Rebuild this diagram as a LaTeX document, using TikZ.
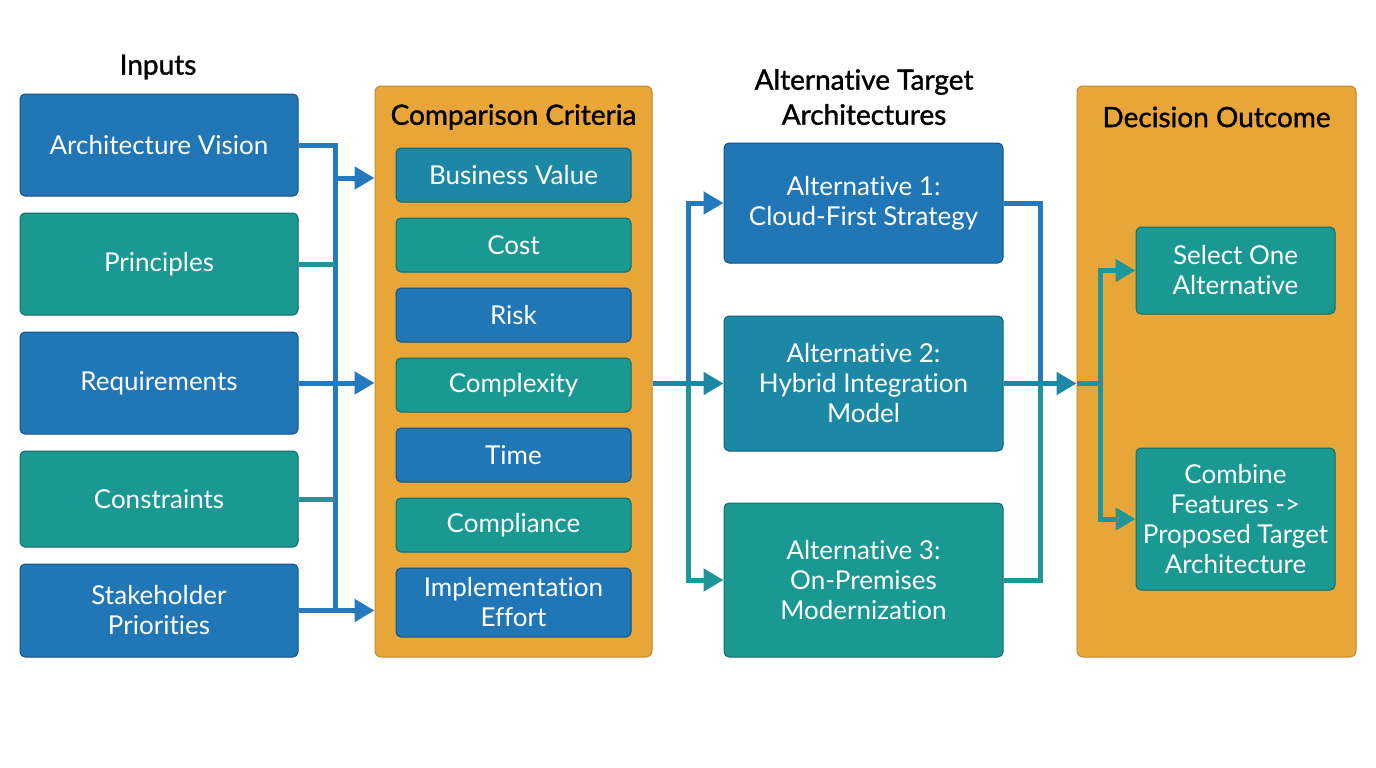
\documentclass[tikz,border=0pt]{standalone}
\usepackage{fontspec}
\setmainfont{Lato}[Ligatures=NoCommon]
\newfontfamily\ttlfont{Lato}[Ligatures=NoCommon,FakeBold=1.2]
\usetikzlibrary{arrows.meta,positioning,calc}
\definecolor{cblue}{RGB}{33,118,182}
\definecolor{cblueb}{RGB}{22,80,130}
\definecolor{cteal}{RGB}{26,152,146}
\definecolor{ctealb}{RGB}{18,105,105}
\definecolor{cmid}{RGB}{28,136,166}
\definecolor{cmidb}{RGB}{20,95,120}
\definecolor{corange}{RGB}{233,166,56}
\definecolor{corangeb}{RGB}{196,138,52}
\definecolor{lblue}{RGB}{36,122,188}
\definecolor{lteal}{RGB}{32,150,152}
\tikzset{
  box/.style={rectangle, rounded corners=5pt, line width=1pt, text=white, align=center,
    font=\fontsize{26}{30}\selectfont, inner sep=0pt},
  bluebox/.style={box, fill=cblue, draw=cblueb},
  tealbox/.style={box, fill=cteal, draw=ctealb},
  midbox/.style={box, fill=cmid, draw=cmidb},
  panel/.style={rectangle, rounded corners=6pt, fill=corange, draw=corangeb, line width=1pt},
  ttl/.style={font=\ttlfont\fontsize{28}{35}\selectfont, text=black, align=center},
  ln/.style={line width=5pt},
  arr/.style={line width=5pt, -{Triangle[length=20pt,width=22pt]}},
}
\begin{document}
\begin{tikzpicture}[x=1pt,y=-1pt]
\useasboundingbox (0,0) rectangle (1376,768);
\fill[white] (0,0) rectangle (1376,768);
% titles
\node[ttl] (tin) at (158,67) {Inputs};
\node[ttl] (talt) at (864,97) {Alternative Target\\Architectures};
% panels
\node[panel, minimum width=277pt, minimum height=571pt] (cc) at (513.5,371.5) {};
\node[panel, minimum width=279pt, minimum height=571pt] (do) at (1216.5,371.5) {};
\node[ttl] (tcc) at (513.5,117) {Comparison Criteria};
\node[ttl] (tdo) at (1216.5,117) {Decision Outcome};
% inputs
\node[bluebox, minimum width=278pt, minimum height=102pt] (av) at (159,145) {Architecture Vision};
\node[tealbox, minimum width=278pt, minimum height=102pt] (pr) at (159,264) {Principles};
\node[bluebox, minimum width=278pt, minimum height=102pt] (rq) at (159,383) {Requirements};
\node[tealbox, minimum width=278pt, minimum height=96pt] (cn) at (159,499) {Constraints};
\node[bluebox, minimum width=278pt, minimum height=93pt] (sp) at (159,610.5) {Stakeholder\\Priorities};
% criteria
\node[midbox, minimum width=235pt, minimum height=54pt] (bv) at (513.5,175) {Business Value};
\node[tealbox, minimum width=235pt, minimum height=54pt] (co) at (513.5,245) {Cost};
\node[bluebox, minimum width=235pt, minimum height=54pt] (ri) at (513.5,315) {Risk};
\node[tealbox, minimum width=235pt, minimum height=54pt] (cx) at (513.5,385) {Complexity};
\node[bluebox, minimum width=235pt, minimum height=54pt] (ti) at (513.5,455) {Time};
\node[tealbox, minimum width=235pt, minimum height=54pt] (cm) at (513.5,525) {Compliance};
\node[bluebox, minimum width=235pt, minimum height=69pt] (ie) at (513.5,602.5) {Implementation\\Effort};
% alternatives
\node[bluebox, minimum width=279pt, minimum height=120pt] (a1) at (863.5,203) {Alternative 1:\\Cloud-First Strategy};
\node[midbox, minimum width=279pt, minimum height=135pt] (a2) at (863.5,383.5) {Alternative 2:\\Hybrid Integration\\Model};
\node[tealbox, minimum width=279pt, minimum height=154pt] (a3) at (863.5,580) {Alternative 3:\\On-Premises\\Modernization};
% decision
\node[tealbox, minimum width=199pt, minimum height=87pt] (sel) at (1235.5,270.5) {Select One\\Alternative};
\node[tealbox, minimum width=199pt, minimum height=142pt] (comb) at (1235.5,519) {Combine\\Features ->\\Proposed Target\\Architecture};
% connectors left
\coordinate (bT) at (335,145);
\coordinate (bB) at (335,610.5);
\coordinate (b1) at (335,178);
\draw[ln, lblue, line join=miter] (av.east) -- (bT) -- (bB);
\draw[ln, lteal] (pr.east) -- (pr.east -| bT);
\draw[ln, lteal] (cn.east) -- (cn.east -| bT);
\draw[arr, lblue] (b1) -- (b1 -| cc.west);
\draw[arr, lblue] (rq.east) -- (rq.east -| cc.west);
\draw[arr, lblue] (sp.east) -- (sp.east -| cc.west);
% connectors middle
\coordinate (m) at (688,383.5);
\draw[arr, lblue] (m) |- (a1.west);
\draw[arr, lteal] (m) |- (a3.west);
\draw[arr, cmid] (a2.west -| cc.east) -- (a2.west);
% connectors right
\coordinate (r) at (1040,383.5);
\draw[ln, lblue] (a1.east) -| (r);
\draw[ln, lteal] (a3.east) -| (r);
\draw[arr, cmid] (a2.east) -- (a2.east -| do.west);
\coordinate (d) at (1100,383.5);
\draw[ln, lteal] (a2.east -| do.west) -- (d);
\draw[arr, lteal] (d) |- (sel.west);
\draw[arr, lteal] (d) |- (comb.west);
\end{tikzpicture}
\end{document}
